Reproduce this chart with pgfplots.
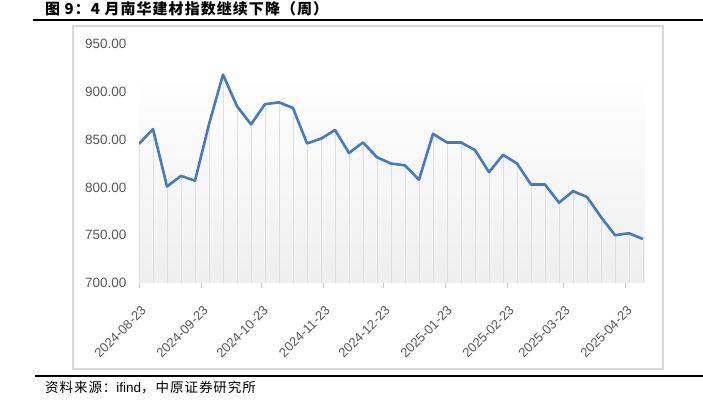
\documentclass[border=0pt]{standalone}
\usepackage{fontspec}
\setmainfont{Liberation Sans}
\newfontfamily\cjk{Noto Sans CJK SC}
\usepackage{pgfplots}
\pgfplotsset{compat=1.18}
\usepackage{pgfplotstable}

\definecolor{linecol}{RGB}{70,122,190}
\definecolor{ticktxt}{RGB}{89,89,89}
\definecolor{framecol}{RGB}{217,217,217}

% weekly closes, x = days since 2024-08-23
\pgfplotstableread{
x   y
0   845.5
7   861
14  801
21  812
28  807
35  866
42  918
49  885
56  866
63  887
70  889
77  883
84  846
91  851
98  860
105 836
112 847
119 831.5
126 825
133 823
140 808
147 856
154 847
161 847
168 839
175 816
182 834
189 825
196 803
203 803
210 784
217 796
224 790
231 769
238 750
245 752
252 746
}\nanhua

\begin{document}
\begin{tikzpicture}[x=1pt,y=1pt]
  \path[use as bounding box] (0,0) rectangle (703,414);
  \fill[white] (0,0) rectangle (703,414);
  \node[anchor=west, inner sep=0pt, font=\cjk\bfseries\fontsize{15}{15}\selectfont\addfontfeature{LetterSpace=7}]
    at (45,405) {图 9：4 月南华建材指数继续下降（周）};
  \draw[line width=2.5pt] (33,394) -- (703,394);
  \draw[line width=1.5pt, framecol] (73,45) rectangle (663,388);

  \begin{axis}[
    at={(139pt,131pt)}, anchor=south west,
    scale only axis,
    width=506pt, height=239pt,
    xmin=0, xmax=253,
    ymin=700, ymax=950,
    axis lines*=left,
    y axis line style={draw=none},
    x axis line style={draw=gray!35, line width=1pt},
    ytick={700,750,...,950},
    ytick style={draw=none},
    xtick={0,31,61,92,122,153,184,212,243},
    xticklabels={2024-08-23,2024-09-23,2024-10-23,2024-11-23,2024-12-23,2025-01-23,2025-02-23,2025-03-23,2025-04-23},
    xtick style={draw=gray!45, line width=0.8pt},
    tick align=outside,
    major tick length=5pt,
    /pgf/number format/.cd, fixed, fixed zerofill, precision=2, assume math mode=true,
    /pgfplots/.cd,
    yticklabel style={font=\fontsize{13.5}{13.5}\selectfont, text=ticktxt, xshift=-4pt},
    xticklabel style={font=\fontsize{13}{13}\selectfont, text=ticktxt, rotate=45, anchor=north east, inner sep=0pt, xshift=-11pt, yshift=-13pt},
  ]
    \fill[top color=white, bottom color=gray!13] (axis cs:0,917) rectangle (axis cs:253,700);
    \addplot[ycomb, draw=gray!25, line width=0.8pt, mark=none, forget plot] table {\nanhua};
    \addplot[color=linecol, line width=2.6pt, line join=round, mark=none] table {\nanhua};
  \end{axis}

  \draw[line width=2pt] (35,38) -- (703,38);
  \node[anchor=west, inner sep=0pt, font=\fontsize{13.5}{13.5}\selectfont]
    at (45,26) {\cjk\addfontfeature{LetterSpace=7}资料来源：\rmfamily ifind\cjk\addfontfeature{LetterSpace=7}，中原证券研究所};
\end{tikzpicture}
\end{document}
